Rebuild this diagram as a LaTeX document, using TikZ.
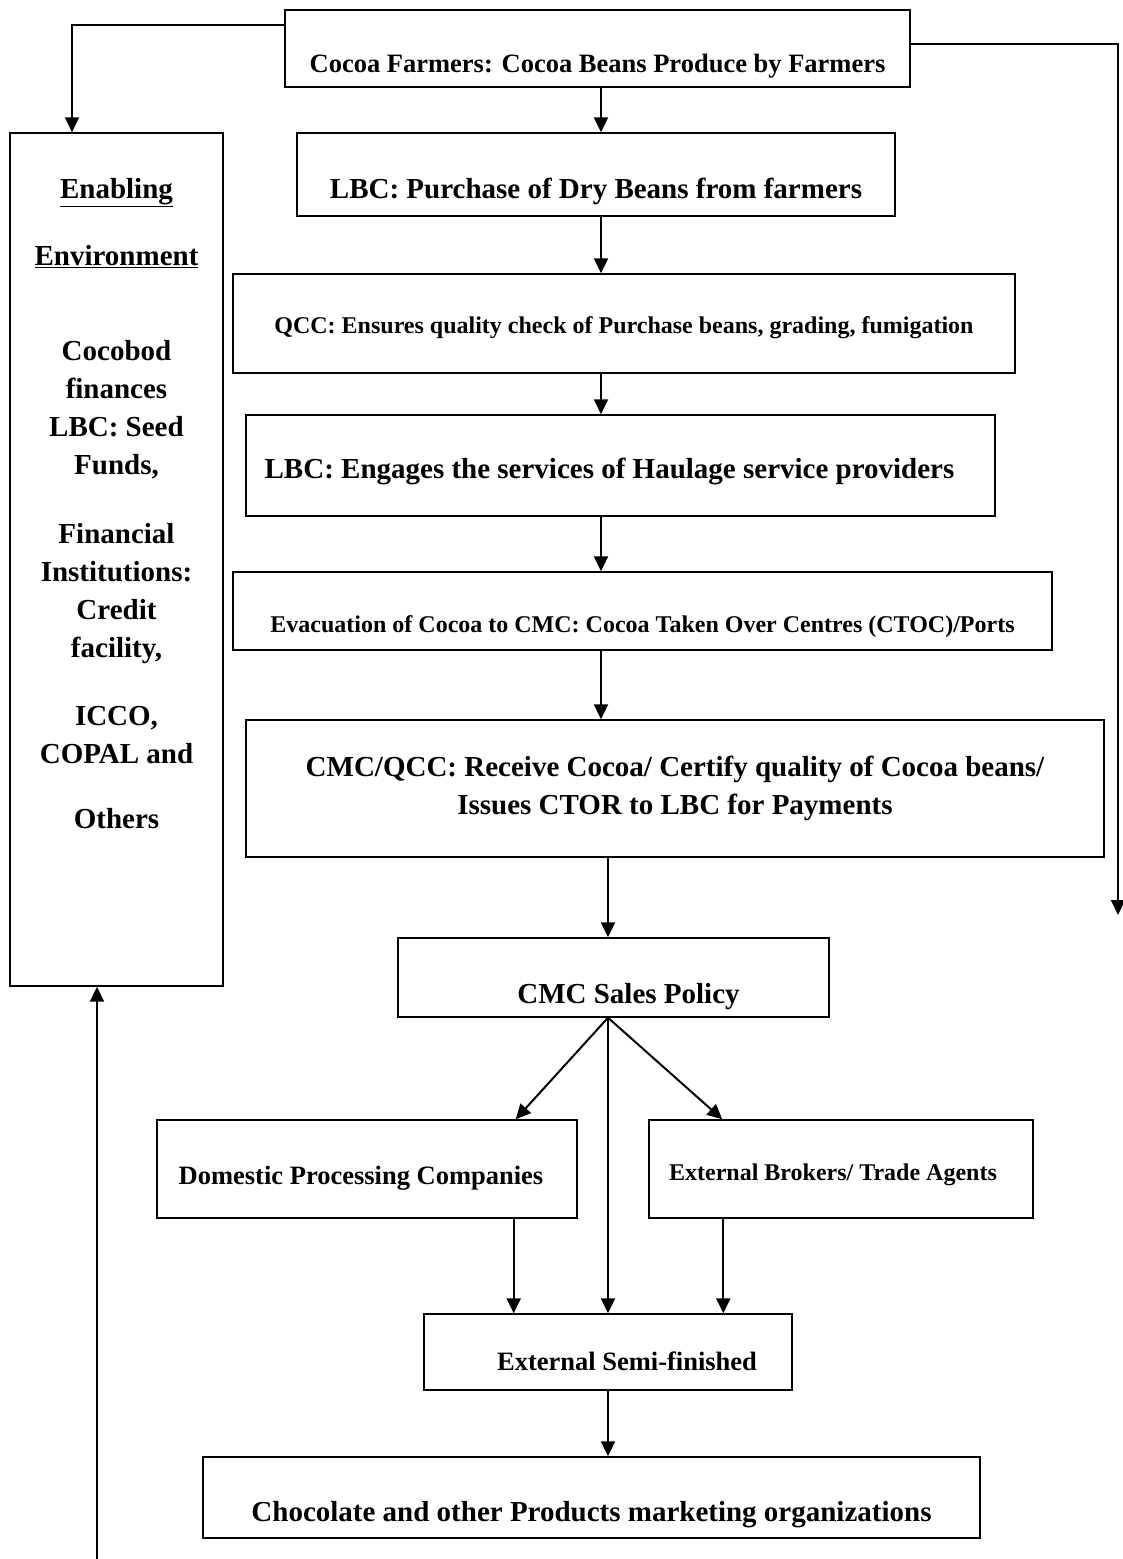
\documentclass[tikz,border=0pt]{standalone}
\usepackage{fontspec}
\setmainfont{Liberation Serif}
\usetikzlibrary{arrows.meta}

\begin{document}
\begin{tikzpicture}[
    x=1pt, y=-1pt,
    box/.style={rectangle, draw, line width=1.4pt, inner sep=0pt, align=center},
    bigtext/.style={font=\fontsize{29}{38}\selectfont\bfseries},
    midtext/.style={font=\fontsize{26.5}{34}\selectfont\bfseries},
    smalltext/.style={font=\fontsize{24}{30}\selectfont\bfseries},
    textdrop/.style={text height=#1, text depth=0pt},
    arrow/.style={-{Triangle[length=15pt, width=14pt]}, line width=2pt}
]
    \useasboundingbox (0,0) rectangle (1123,1559);

    % Main chain
    \node[box, midtext, textdrop=47pt, minimum width=625pt, minimum height=77pt] (farmers) at (597.5,48.5) {Cocoa Farmers: Cocoa Beans Produce by Farmers};
    \node[box, bigtext, textdrop=47pt, minimum width=598pt, minimum height=83pt] (lbc) at (596,174.5) {LBC: Purchase of Dry Beans from farmers};
    \node[box, smalltext, textdrop=19pt, minimum width=782pt, minimum height=99pt] (qcc) at (624,323.5) {QCC: Ensures quality check of Purchase beans, grading, fumigation};
    \node[box, bigtext, textdrop=25pt, minimum width=749pt, minimum height=101pt] (haulage) at (620.5,465.5) {LBC: Engages the services of Haulage service providers\hspace*{22pt}};
    \node[box, smalltext, textdrop=42pt, minimum width=819pt, minimum height=78pt] (evac) at (642.5,611) {Evacuation of Cocoa to CMC: Cocoa Taken Over Centres (CTOC)/Ports};
    \node[box, bigtext, minimum width=858pt, minimum height=137pt] (cmcqcc) at (675,788.5) {CMC/QCC: Receive Cocoa/ Certify quality of Cocoa beans/\\Issues CTOR to LBC for Payments};
    \node[box, bigtext, textdrop=51pt, minimum width=431pt, minimum height=79pt] (sales) at (613.5,977.5) {\hspace*{30pt}CMC Sales Policy};

    % Buyers
    \node[box, midtext, textdrop=30pt, minimum width=420pt, minimum height=98pt] (domestic) at (367,1169) {Domestic Processing Companies\hspace*{12pt}};
    \node[box, smalltext, textdrop=22pt, minimum width=384pt, minimum height=98pt] (brokers) at (841,1169) {External Brokers/ Trade Agents\hspace*{16pt}};
    \node[box, midtext, textdrop=36pt, minimum width=368pt, minimum height=76pt] (semi) at (608,1352) {\hspace*{38pt}External Semi-finished};
    \node[box, bigtext, textdrop=47pt, minimum width=777pt, minimum height=81pt] (chocolate) at (591.5,1497.5) {Chocolate and other Products marketing organizations};

    % Enabling environment
    \node[box, bigtext] (enabling) at (116.5,559.5) {\parbox[c][853pt][t]{213pt}{\centering
        \vspace*{45pt}
        \underline{Enabling}\\[29pt]
        \underline{Environment}\\[57pt]
        Cocobod\\ finances\\ LBC: Seed\\ Funds,\\[31pt]
        Financial\\ Institutions:\\ Credit\\ facility,\\[30pt]
        ICCO,\\ COPAL and\\[27pt]
        Others}};

    % Free ends
    \coordinate (spine) at (601,0);
    \coordinate (salesspine) at (608,0);
    \coordinate (rightend) at (1118,915);
    \coordinate (leftstart) at (97,1559);
    \coordinate (domout) at ([xshift=-64pt]domestic.south east);
    \coordinate (brkout) at ([xshift=75pt]brokers.south west);

    % Arrows
    \draw[arrow] (spine |- farmers.south) -- (spine |- lbc.north);
    \draw[arrow] (spine |- lbc.south) -- (spine |- qcc.north);
    \draw[arrow] (spine |- qcc.south) -- (spine |- haulage.north);
    \draw[arrow] (spine |- haulage.south) -- (spine |- evac.north);
    \draw[arrow] (spine |- evac.south) -- (spine |- cmcqcc.north);
    \draw[arrow] (salesspine |- cmcqcc.south) -- (salesspine |- sales.north);
    \draw[arrow] (salesspine |- sales.south) -- ([xshift=-62pt]domestic.north east);
    \draw[arrow] (salesspine |- sales.south) -- ([xshift=74pt]brokers.north west);
    \draw[arrow] (salesspine |- sales.south) -- (salesspine |- semi.north);
    \draw[arrow] (domout) -- (domout |- semi.north);
    \draw[arrow] (brkout) -- (brkout |- semi.north);
    \draw[arrow] (salesspine |- semi.south) -- (salesspine |- chocolate.north);

    \draw[arrow] ([yshift=23.5pt]farmers.west) -| ([xshift=-44.5pt]enabling.north);
    \draw[arrow] ([yshift=4.5pt]farmers.east) -| (rightend);
    \draw[arrow] (leftstart) -- (leftstart |- enabling.south);
\end{tikzpicture}
\end{document}
